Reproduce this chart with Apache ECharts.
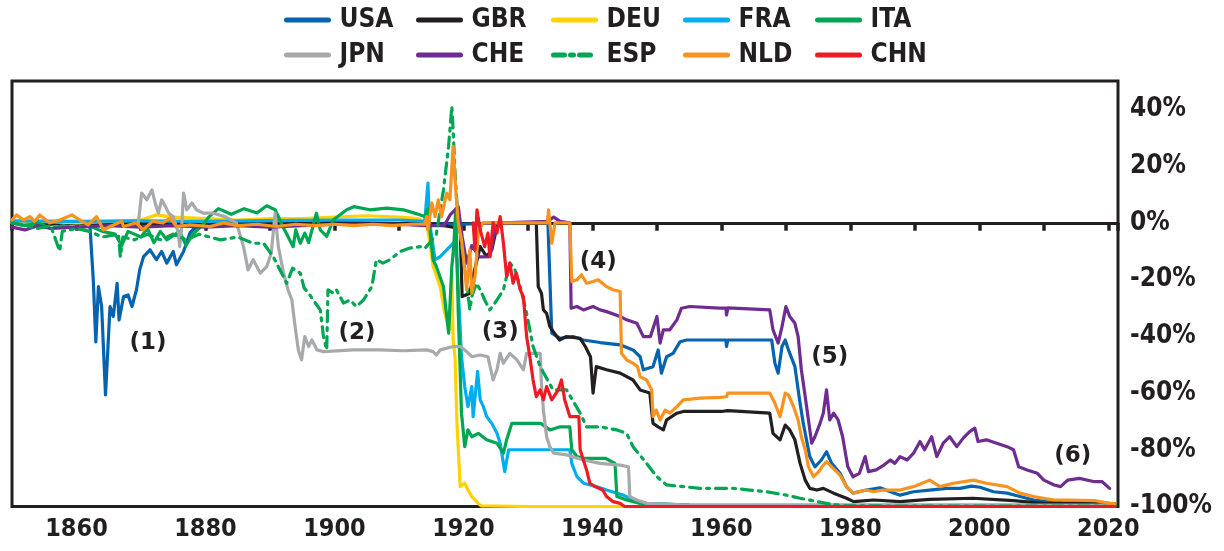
<!DOCTYPE html>
<html>
<head>
<meta charset="utf-8">
<script src="https://cdn.jsdelivr.net/npm/echarts@6/dist/echarts.min.js"></script>
<style>html,body{margin:0;padding:0;background:#fff}#c{width:1224px;height:551px}</style>
</head>
<body>
<div id="c"></div>
<script>
const countries = ['USA','GBR','DEU','FRA','ITA','JPN','CHE','ESP','NLD','CHN'];
const colors = ['#0563B0','#231F20','#FFD200','#00AEEF','#00A651','#A7A9AC','#6E2C91','#00A651','#F7931E','#ED1C24'];

const usaData = [[1850,0.5],[1852,0],[1854,0.5],[1856,-0.5],[1858,0],[1860,-0.5],[1861.5,0],[1862.1,-1.5],[1862.6,-20],[1863,-42],[1863.4,-22.5],[1863.9,-29.5],[1864.5,-60.7],[1865.2,-29.5],[1865.7,-33],[1866.3,-21.3],[1866.6,-34.2],[1867.3,-26],[1868,-25.4],[1868.6,-29.5],[1869.3,-23.6],[1869.8,-16.6],[1870.4,-11.9],[1871.4,-9.5],[1872.4,-13],[1873.2,-10.1],[1874,-14.2],[1875,-10.1],[1875.5,-14.8],[1876.6,-10.1],[1877.6,-3.5],[1878.6,-1.3],[1879.5,0],[1885,0],[1890,-0.5],[1895,0],[1900,0],[1910,-0.3],[1920,-0.5],[1925,0],[1933.1,0],[1933.7,-38.9],[1935,-40.7],[1937,-40.1],[1938.6,-41.3],[1941.2,-42.2],[1944.3,-43],[1946.3,-44.8],[1947.4,-47.2],[1947.9,-51.8],[1949.4,-50.7],[1950.2,-44.8],[1950.7,-53],[1951.5,-47.2],[1952.5,-46],[1953.6,-41.9],[1954.6,-41.3],[1958,-41.3],[1960.7,-41.3],[1960.8,-43.6],[1961,-41.3],[1967.8,-41.3],[1968.3,-49.5],[1968.8,-53],[1969.4,-43.6],[1969.9,-41.3],[1970.4,-44.8],[1971.4,-50.7],[1972.2,-63.6],[1972.7,-70.7],[1973.2,-76.5],[1973.7,-82.4],[1974.5,-86],[1975.5,-83.6],[1976.3,-80.7],[1977.1,-84.8],[1978.4,-88.3],[1979.4,-93],[1980.4,-95.3],[1982.5,-94.2],[1984.6,-93.4],[1986.2,-94.8],[1987.7,-96],[1989.8,-94.8],[1992.3,-94.2],[1994.9,-93.6],[1997,-93.6],[1998.8,-92.8],[2000.1,-93.2],[2002.2,-94.8],[2004.3,-95.3],[2006.3,-96.5],[2008.4,-97.7],[2010.4,-98.3],[2013,-98.7],[2015.5,-98.7],[2019.7,-98.9],[2021,-99]];

const gbrData = [[1850,0],[1855,-0.5],[1860,0],[1870,-0.5],[1880,0],[1890,-0.5],[1900,0],[1910,-0.3],[1914,0],[1917,-1],[1919.5,-2],[1919.8,-26],[1921,-24.8],[1921.5,-18.9],[1922.6,-8.4],[1923.6,-11.9],[1924.4,-9.5],[1925.2,-1.3],[1926,0],[1931.3,0],[1931.6,-22.5],[1932.1,-24.8],[1932.4,-30.7],[1932.9,-31.9],[1933.4,-36.6],[1934.1,-38.9],[1934.9,-41.3],[1935.9,-40.1],[1938.1,-40.7],[1938.9,-43.6],[1939.7,-47.2],[1940.1,-60],[1940.6,-50.7],[1942.2,-51.8],[1944.3,-53],[1946.3,-55.4],[1947.4,-58.9],[1948.9,-60],[1949.4,-70.7],[1950.2,-71.9],[1951,-73],[1951.5,-69.5],[1953.1,-67.1],[1954.1,-66.5],[1960,-66.5],[1961,-66.2],[1967.5,-67.1],[1968,-74.2],[1969.1,-76.5],[1969.9,-71.3],[1970.6,-73],[1971.4,-76.5],[1972.2,-84.8],[1973,-90.7],[1973.7,-93.6],[1974.8,-94.2],[1975.8,-93.6],[1977.4,-95.3],[1979.4,-97.1],[1980.5,-98.3],[1983.6,-97.7],[1987.7,-98.3],[1992.3,-97.5],[1999,-97.1],[2005.3,-97.9],[2010,-98.9],[2020,-99.1],[2021,-99.2]];

const deuData = [[1850,0],[1855,0.5],[1860,0],[1865,0.5],[1870,1],[1872.4,2.8],[1875,2],[1880,1.5],[1885,1],[1890,1.5],[1895,1.5],[1900,2],[1905,2.5],[1910,2],[1913,1.5],[1914.3,0],[1914.8,-7],[1915.3,-15.4],[1916.4,-22.5],[1917.1,-31.9],[1917.9,-37.7],[1918.2,-16.6],[1918.4,-41.3],[1918.7,-47.2],[1919,-70.7],[1919.5,-93],[1920.2,-91.8],[1920.7,-94.2],[1921.3,-96.5],[1922.3,-98.9],[1922.8,-99.8],[1930,-100],[2021,-100]];

const fraData = [[1850,0.7],[1860,0.5],[1870,0.7],[1880,0.5],[1890,0.8],[1900,1],[1910,1],[1914,0.5],[1914.5,14],[1914.7,1],[1915.6,-13],[1916.4,-11.9],[1917.4,-9.5],[1918.4,-7.2],[1919,-13],[1919.2,-23.6],[1919.7,-47.2],[1920.2,-57.7],[1920.7,-64.8],[1921.3,-57.7],[1921.5,-68.3],[1922.2,-52.4],[1922.6,-62.4],[1923.1,-64.8],[1923.6,-68.3],[1924.4,-70.7],[1925.2,-74.2],[1925.7,-77.7],[1926.4,-87.7],[1927,-80],[1936.5,-80],[1936.8,-84.8],[1937.6,-89.5],[1938.6,-91.8],[1940.7,-93],[1942.2,-94.2],[1943.8,-95.3],[1944.8,-96],[1946.3,-97.7],[1948.4,-98.9],[1955,-99.5],[2021,-99.6]];

const itaData = [[1850,0],[1852,-1],[1854,0],[1856,-2],[1858,-1],[1860,-2],[1862,-1],[1864,-3],[1866,-4],[1867,-8],[1868,-3],[1870,-5],[1871,-2],[1872,-7],[1873,-3],[1874,-6],[1876,-3],[1877,-8],[1878,-4],[1879.5,-1],[1880.5,2],[1882,5],[1884,3],[1886,5],[1888,3.5],[1889.5,6],[1890.8,4.6],[1892,-1.3],[1893.6,-8.4],[1894,-2.5],[1894.7,-7.2],[1895.4,-3.6],[1896,-7],[1897.2,3.4],[1897.8,-2.5],[1898.8,-4.8],[1899.8,1],[1901.9,4.6],[1903,5.7],[1905.5,4.6],[1908.1,5.2],[1910.7,4.6],[1913.3,2.8],[1914,2.2],[1914.5,5],[1914.8,-2.5],[1915.3,-13],[1915.8,-15.4],[1916.9,-22.5],[1917.7,-38.9],[1918.2,-15.4],[1918.5,-8.4],[1918.8,5],[1919.2,-31.9],[1919.7,-67.1],[1920.2,-78.9],[1920.7,-73],[1921.3,-75.4],[1922.3,-74.2],[1923.6,-76.5],[1925.2,-77.7],[1926.2,-81.2],[1926.7,-76.5],[1927.5,-70.7],[1932,-70.7],[1933.4,-73],[1935,-71.9],[1936.5,-71.9],[1936.8,-80],[1937.6,-82.4],[1938.6,-83],[1942,-83],[1943.5,-84.8],[1943.8,-96.5],[1945.3,-97.7],[1947.4,-98.9],[1955,-99.5],[2021,-99.6]];

const jpnData = [[1869.6,0],[1870.1,10.5],[1870.9,8.1],[1871.7,11.6],[1872.2,7],[1872.7,3.4],[1873.2,8.1],[1873.8,5.7],[1874.3,3.4],[1875,2.2],[1875.8,-3.6],[1876,-8.4],[1876.3,-2],[1876.6,10.5],[1877.1,4.6],[1877.9,7],[1878.6,4.6],[1879.7,3.4],[1881.2,3.4],[1883,2.2],[1884.8,0],[1885.9,-8.4],[1886.6,-16.6],[1887.4,-13],[1888.5,-17.7],[1889.5,-15.4],[1890.2,-10.7],[1890.8,3.4],[1891.3,-8.4],[1892.1,-17.7],[1892.8,-23.6],[1893.4,-27.2],[1893.9,-36.6],[1894.4,-44.8],[1894.9,-48.3],[1895.4,-40.1],[1896,-43.6],[1896.5,-41.3],[1897.3,-44.8],[1898.3,-45.4],[1902.9,-44.8],[1907,-44.8],[1910.7,-45.1],[1914.3,-44.8],[1915.3,-45.4],[1915.8,-46.6],[1916.4,-44.8],[1918.4,-43.6],[1919.5,-43.6],[1920.5,-45.4],[1921.3,-47.2],[1922.6,-46.6],[1923.8,-47.2],[1924.6,-55.4],[1925.2,-51.8],[1925.7,-46],[1926.2,-49.5],[1927.2,-46],[1928.3,-48.3],[1929.3,-51.8],[1929.8,-46],[1931.9,-46],[1932.1,-56.5],[1932.4,-66],[1932.9,-75.4],[1933.4,-78.9],[1933.7,-80],[1934,-81.2],[1936,-81.8],[1938.6,-83.6],[1941.2,-84.8],[1944.3,-85.4],[1945.6,-86],[1945.8,-96.5],[1946.9,-97.7],[1948.4,-98.9],[1955,-99.5],[2021,-99.6]];

const cheData = [[1850,-1.5],[1852,-2.5],[1854,-1],[1856,-2],[1860,-1.5],[1865,-1],[1870,-1.5],[1875,-1],[1880,-1.5],[1885,-1],[1890,-1.5],[1895,-1],[1900,-0.5],[1910,-0.5],[1914,-1],[1917,-1],[1918,3],[1919.2,5.7],[1919.8,-4.8],[1920.5,-14.2],[1921.3,-8],[1922.5,-12],[1924.1,-11.9],[1925,-2],[1926,0],[1933,0.5],[1934,2],[1935,0.5],[1936.5,0],[1936.7,-30.1],[1937.6,-29.5],[1938.6,-30.7],[1940.1,-29.5],[1941.2,-30.7],[1942.2,-31.3],[1944.3,-33],[1945.3,-34.2],[1946.9,-35.4],[1947.9,-40.1],[1949,-40.1],[1950,-33],[1950.5,-42.4],[1951,-37.7],[1952,-37.7],[1953.1,-34.2],[1953.8,-30.1],[1955.1,-29.5],[1959.7,-30.1],[1960.7,-30.1],[1960.8,-32.5],[1961,-30],[1967.5,-30.7],[1968,-37.7],[1968.8,-42.4],[1969.4,-36.6],[1970,-29.5],[1970.6,-33],[1971.4,-35.4],[1971.9,-40.1],[1972.4,-51.8],[1973,-61.3],[1973.5,-69.5],[1974,-77.7],[1974.5,-75.4],[1975.3,-70.7],[1975.8,-67.1],[1976.3,-58.9],[1976.8,-69.5],[1977.4,-67.1],[1978.1,-69.5],[1978.8,-75.4],[1979.6,-86],[1980.4,-89.5],[1981.4,-88.3],[1982.3,-82.4],[1982.8,-87.7],[1984,-87.1],[1985.2,-85.4],[1986.2,-83.6],[1986.9,-84.8],[1987.7,-82.4],[1988.8,-83.6],[1989.8,-81.2],[1990.8,-77.1],[1991.5,-80],[1992.6,-75.4],[1993.4,-82.4],[1994.4,-77.7],[1995.4,-75.4],[1996.5,-78.9],[1997.5,-75.9],[1998.5,-73.6],[1999.3,-72.4],[1999.8,-77.1],[2001.1,-76.5],[2002.7,-77.7],[2004.3,-78.9],[2005.3,-80],[2006.1,-86],[2007.4,-87.1],[2009,-88.3],[2010,-90.7],[2011.6,-92.4],[2012.6,-93],[2013.7,-90.7],[2015.5,-90.1],[2017.7,-91.2],[2019,-91.2],[2020.2,-93.6]];

const espData = [[1850,0],[1852,-1],[1854,-2],[1856,-1],[1857.4,-10],[1857.8,-3],[1860,-2],[1862,-3],[1864,-5],[1866.5,-4],[1866.8,-12],[1867.2,-5],[1869,-6],[1871,-4],[1873,-6],[1875,-4],[1877,-6],[1879,-4],[1882.3,-6],[1885,-5],[1887.4,-7.2],[1889,-7.2],[1890.5,-11.9],[1891.8,-17.7],[1892.6,-21.3],[1893.5,-16],[1894.7,-17.7],[1895.3,-23],[1896,-24.8],[1896.7,-27.2],[1897.8,-30.7],[1898.3,-40.1],[1898.8,-44.8],[1899,-23.6],[1899.8,-24.8],[1900.3,-23.6],[1901.4,-28.3],[1902.4,-27.2],[1903.4,-29.5],[1904.5,-27.2],[1905.8,-22.5],[1906.5,-13],[1907.5,-14.2],[1908.6,-13],[1910.2,-10.1],[1911.7,-8.9],[1913.3,-8.4],[1914,-9],[1914.8,-7],[1915.8,-4],[1916.9,11.6],[1917.7,27],[1918.2,41],[1918.4,33],[1918.7,17.5],[1919.2,0],[1920,-12],[1920.5,-21.3],[1921,-30.7],[1921.3,-26],[1922,-21.3],[1922.6,-23.6],[1923.3,-27.2],[1924.1,-30.7],[1925.2,-27.2],[1926.2,-23.6],[1927.2,-14.2],[1927.9,-16],[1928.8,-22.5],[1929.8,-31.9],[1930.8,-43.6],[1931.9,-50.7],[1933.9,-58.9],[1936,-58.9],[1938.1,-67.1],[1939.1,-71.9],[1941.2,-71.9],[1943.8,-73],[1945.3,-74.2],[1946.3,-78.9],[1948.4,-84.8],[1950,-89.5],[1951.5,-92.4],[1954.1,-93],[1956.7,-93.6],[1961.9,-93.6],[1964.4,-94.2],[1967,-94.8],[1970.1,-96],[1972.2,-97.1],[1976.3,-98.9],[1978.9,-99.8],[2021,-99.9]];

const nldData = [[1850,1],[1850.7,2.8],[1851.8,1],[1852.8,2.2],[1853.5,0.5],[1854.3,2.8],[1855.8,0],[1857.4,1],[1859.3,2.8],[1860.5,1],[1861.8,-0.7],[1863.1,2.2],[1864.2,-2.5],[1865.2,-1.3],[1867,0.5],[1867.3,-1.3],[1869.3,0],[1870.3,-2.5],[1871.8,0.5],[1873.4,0],[1874.5,1.7],[1875.5,-1.3],[1877.6,-0.7],[1880.7,-1.3],[1882.8,0],[1885,-1],[1888,-0.5],[1891,-1.3],[1894,-0.5],[1897,-1],[1900,-0.5],[1903,-1],[1906,-0.5],[1909,-1],[1912,-0.5],[1914,-0.5],[1914.3,2.2],[1914.5,-2.5],[1915.1,7],[1915.6,2.2],[1916.1,8.1],[1916.6,2.2],[1917.4,10.5],[1917.9,8.1],[1918.4,27],[1918.8,11.6],[1919.2,0],[1919.7,-6],[1920.2,-16.6],[1920.5,-23.6],[1921,-9.5],[1921.3,-24.8],[1921.8,-18.9],[1922.3,-3.6],[1923,0],[1933,0],[1933.2,4.6],[1933.7,-7.2],[1934.2,0],[1936.5,0],[1936.8,-20.7],[1937.6,-20.1],[1938.3,-18.3],[1939.1,-21.3],[1940.1,-20.7],[1940.9,-20.1],[1942.2,-22.5],[1943.2,-23.6],[1944.3,-24.2],[1944.5,-46],[1945.3,-48.3],[1946.3,-49.5],[1947,-50.7],[1947.4,-54.2],[1948.4,-55.4],[1949.2,-58.9],[1949.4,-68.3],[1949.9,-66],[1950.5,-69.5],[1951.3,-66],[1952,-67.1],[1953.1,-64.8],[1954.1,-62.4],[1956.7,-61.8],[1959.8,-61.5],[1960.8,-61.3],[1961,-60],[1967.5,-60],[1968.3,-63.6],[1969.1,-68.3],[1969.9,-60],[1970.4,-60.7],[1971.2,-64.8],[1971.9,-69.5],[1972.4,-75.4],[1973,-80],[1973.5,-86],[1974.3,-89.5],[1975.1,-87.7],[1975.6,-86],[1976.3,-84.2],[1977.1,-86],[1978.4,-88.9],[1979.4,-93],[1980.4,-95.3],[1982.5,-94.2],[1983.6,-94.8],[1985,-94.2],[1987.7,-94.2],[1989.8,-93],[1992.3,-90.7],[1993.9,-93],[1996,-91.8],[1999.1,-90.7],[2001.1,-91.8],[2004.3,-93],[2006.3,-95.3],[2008.4,-96.5],[2011.6,-97.7],[2013.7,-97.7],[2017.8,-97.9],[2020.2,-98.9],[2021,-99]];

const chnData = [[1921.5,0],[1921.8,-9.5],[1922.1,4.6],[1922.6,-2.5],[1923.3,-8.4],[1923.8,-3.6],[1924.1,-11.9],[1924.6,0],[1925.2,-3.6],[1925.7,2.2],[1926.2,-7.2],[1926.7,-18.9],[1927.2,-14.2],[1927.7,-21.3],[1928.2,-17.7],[1928.8,-23.6],[1929.3,-26],[1929.8,-40.1],[1930.3,-47.2],[1930.8,-55.4],[1931.3,-61.3],[1931.9,-58.9],[1932.4,-62.4],[1932.9,-57.7],[1933.7,-62.4],[1934.7,-58.9],[1935.2,-55.4],[1935.7,-62.4],[1936.5,-68.3],[1937.1,-68.3],[1937.9,-68.3],[1938.1,-80],[1938.6,-83.6],[1939.1,-87.1],[1939.6,-91.8],[1940.4,-93],[1941.6,-94.2],[1942.2,-96.5],[1943.2,-98.3],[1944.3,-98.9],[1945,-100],[2021,-100]];

const seriesData = [usaData, gbrData, deuData, fraData, itaData, jpnData, cheData, espData, nldData, chnData];

const annoYears = [1871.1, 1903.5, 1925.7, 1940.9, 1976.8, 2014.5];
const annoValues = [-42.3, -38.8, -38.4, -13.8, -47.3, -82.2];
const annoTexts = ['(1)','(2)','(3)','(4)','(5)','(6)'];

const xTickLabels = [1860,1880,1900,1920,1940,1960,1980,2000,2020];
const yTickLabels = [-100,-80,-60,-40,-20,0,20,40];

const legendLefts = [284, 416, 551, 683, 815];
const legendTops = [5, 40];

const ink = '#231F20';
const condFont = '"DejaVu Sans Condensed", "DejaVu Sans", sans-serif';

const legends = countries.map((name, i) => ({
  data: [name],
  left: legendLefts[i % 5],
  top: legendTops[Math.floor(i / 5)],
  itemWidth: 42,
  itemHeight: 14,
  padding: 0,
  itemStyle: { opacity: 0 },
  lineStyle: { width: 5 },
  textStyle: { fontFamily: condFont, fontWeight: 'bold', fontSize: 26, color: ink, padding: [0, 0, 0, 6], lineHeight: 30 }
}));

const lineSeries = countries.map((name, i) => ({
  name: name,
  type: 'line',
  data: seriesData[i],
  symbol: 'none',
  showSymbol: false,
  z: 3 + i,
  lineStyle: {
    color: colors[i],
    width: 3.2,
    type: name === 'ESP' ? [11, 6, 3, 6] : 'solid',
    cap: 'round',
    join: 'round'
  },
  itemStyle: { color: colors[i] }
}));

const annoSeries = {
  type: 'scatter',
  symbolSize: 0,
  z: 20,
  data: annoYears.map((y, i) => ({ value: [y, annoValues[i]], name: annoTexts[i] })),
  label: {
    show: true,
    position: 'inside',
    formatter: p => p.name,
    fontFamily: '"DejaVu Sans", sans-serif',
    fontWeight: 'bold',
    fontSize: 23,
    color: ink,
    textBorderWidth: 0,
    opacity: 1
  },
  itemStyle: { opacity: 1 },
  silent: true
};

const chart = echarts.init(document.getElementById('c'), null, { renderer: 'canvas' });
chart.setOption({
  animation: false,
  backgroundColor: '#fff',
  legend: legends,
  grid: { left: 12, right: 106, top: 81, bottom: 44.5, show: true, borderColor: ink, borderWidth: 3, backgroundColor: 'transparent' },
  xAxis: [
    {
      type: 'value', min: 1850, max: 2021.5, interval: 10, position: 'bottom',
      axisLine: { show: false, onZero: false },
      axisTick: { show: false },
      splitLine: { show: false },
      axisLabel: {
        margin: 10,
        fontFamily: condFont, fontWeight: 'bold', fontSize: 25, color: ink,
        formatter: v => (xTickLabels.indexOf(v) >= 0 ? String(v) : '')
      }
    },
    {
      type: 'value', min: 1850, max: 2021.5, interval: 10, position: 'top',
      axisLine: { show: true, onZero: true, lineStyle: { color: ink, width: 3 } },
      axisTick: { show: true, inside: true, length: 8, lineStyle: { color: ink, width: 3.5 } },
      axisLabel: { show: false },
      splitLine: { show: false }
    }
  ],
  yAxis: {
    type: 'value', min: -100, max: 50, interval: 20, position: 'right',
    axisLine: { show: false },
    axisTick: { show: false },
    splitLine: { show: false },
    axisLabel: {
      margin: 12,
      fontFamily: condFont, fontWeight: 'bold', fontSize: 26, color: ink,
      formatter: v => (yTickLabels.indexOf(v) >= 0 ? v + '%' : '')
    }
  },
  series: lineSeries.concat([annoSeries])
});
</script>
</body>
</html>
